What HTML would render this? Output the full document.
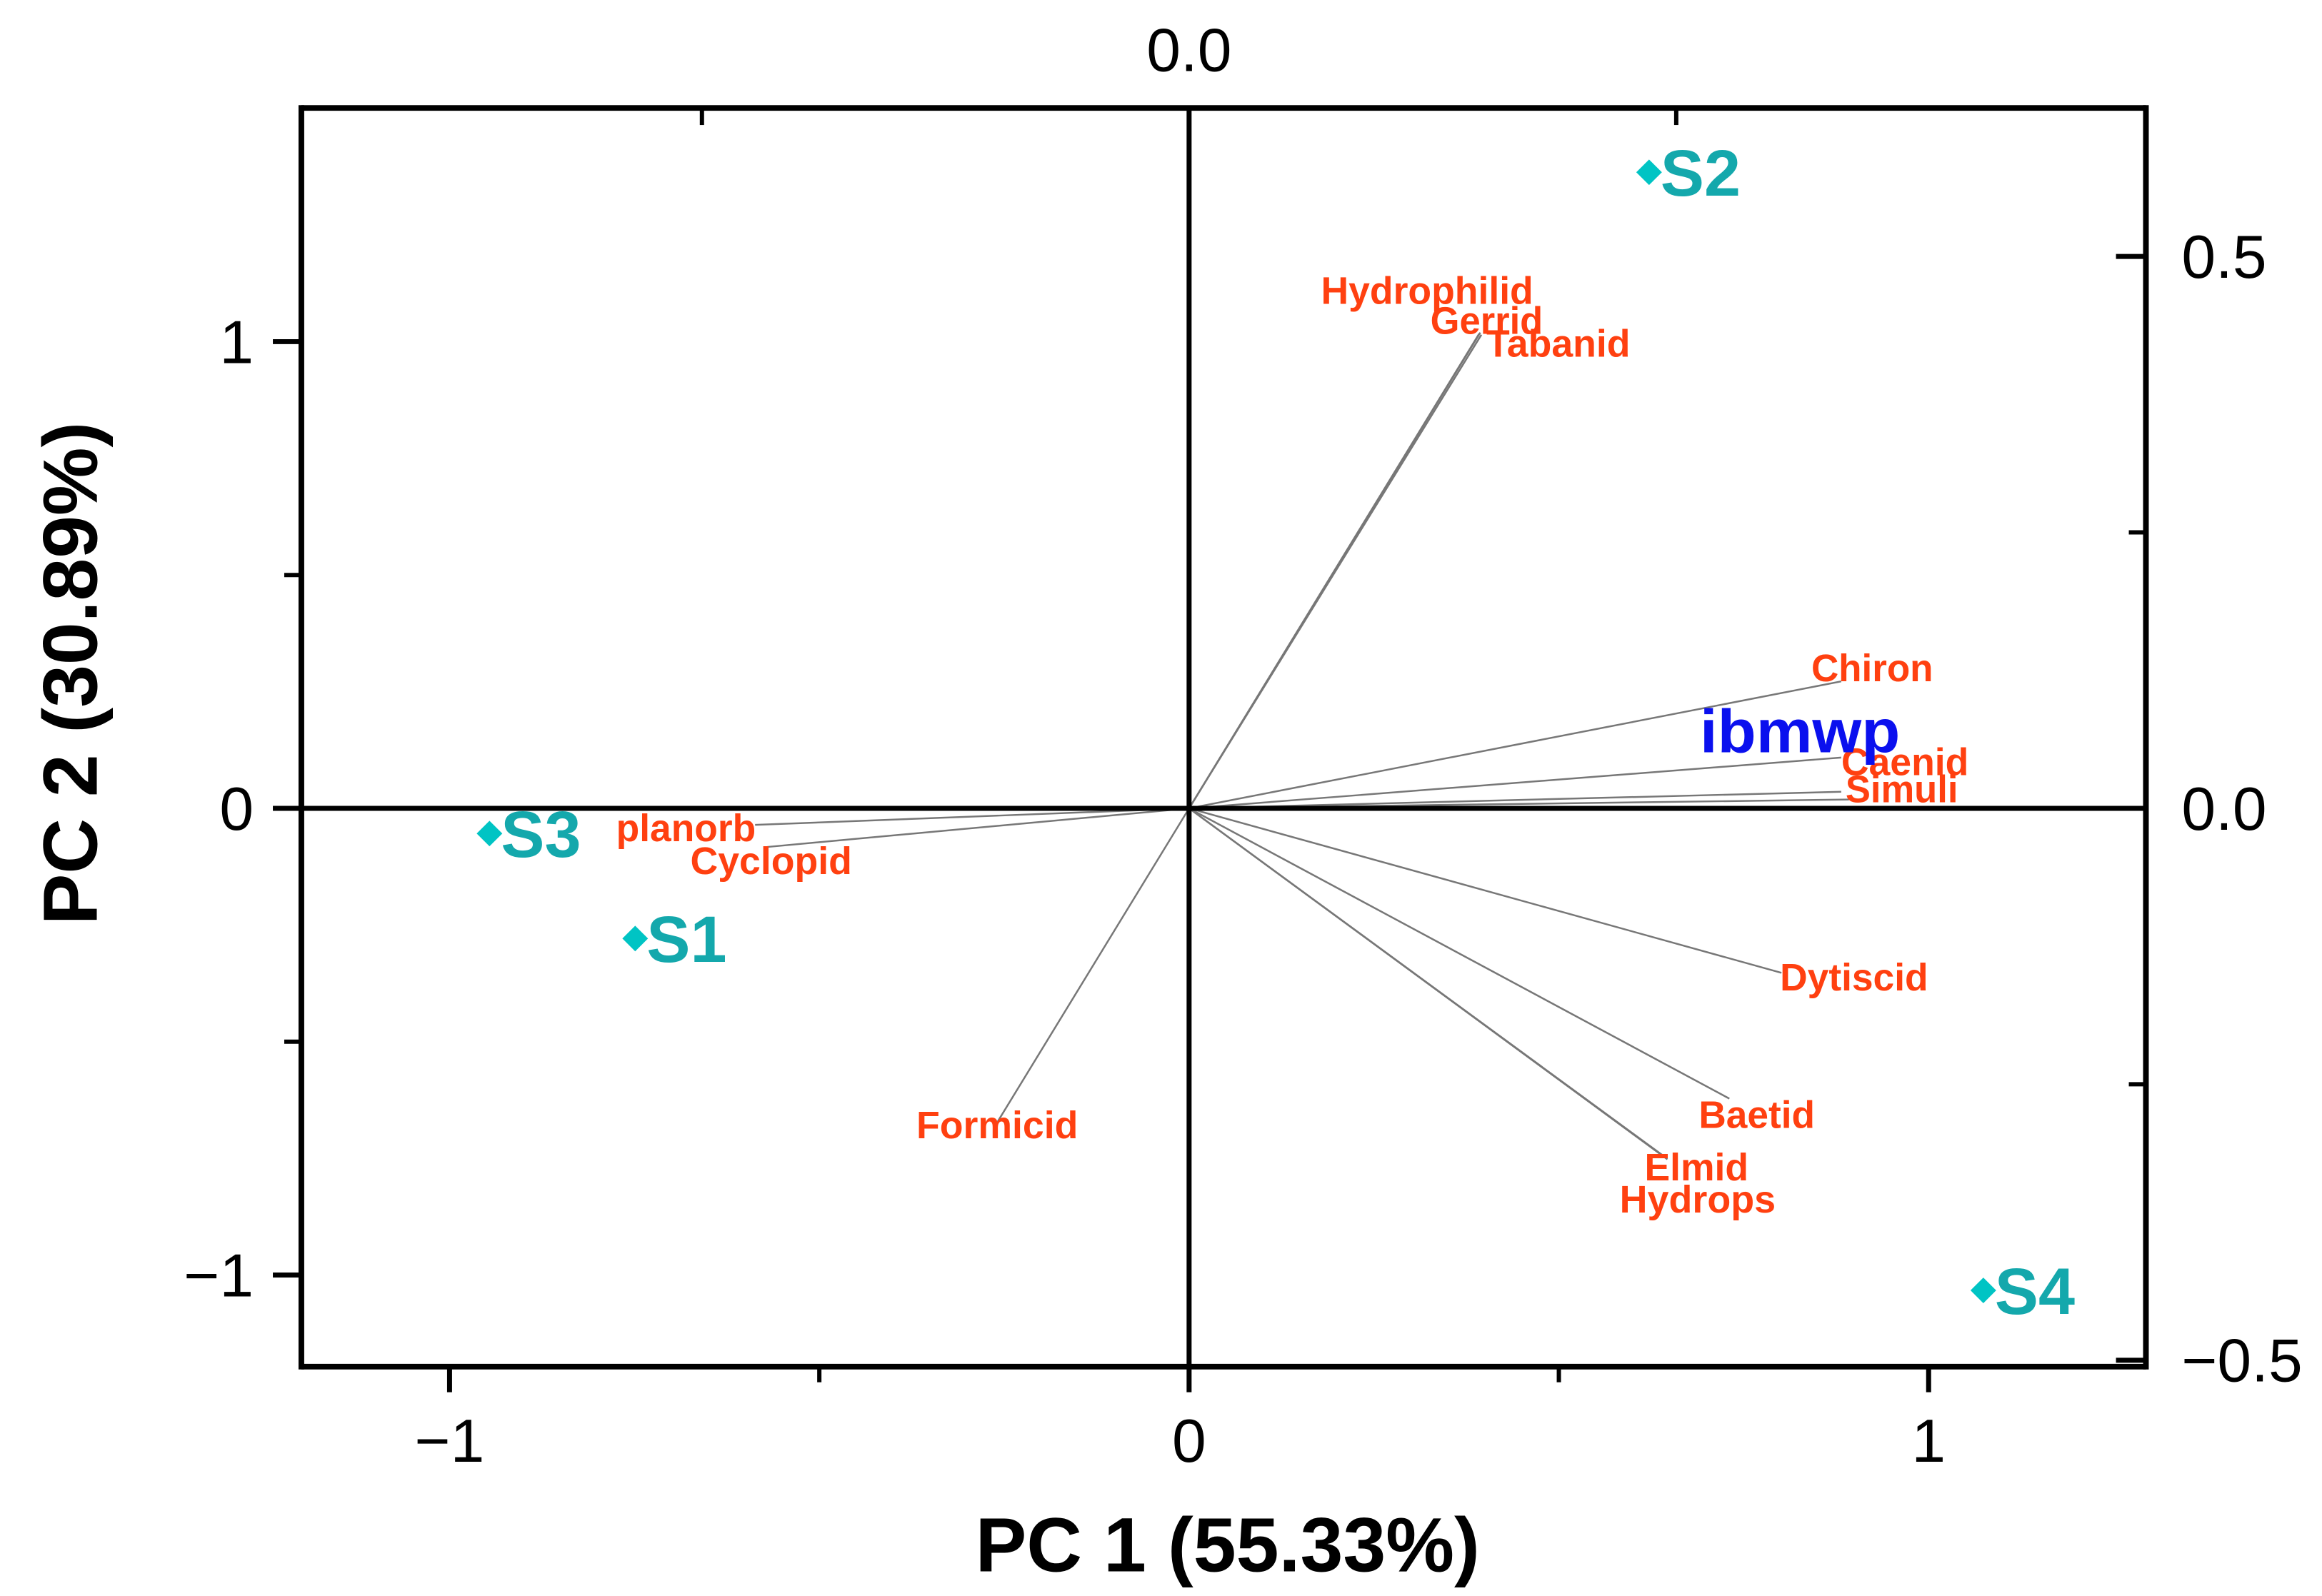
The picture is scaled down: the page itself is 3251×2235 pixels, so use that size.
<!DOCTYPE html>
<html><head><meta charset="utf-8"><style>
html,body{margin:0;padding:0;background:#fff}
svg{display:block}
text{font-family:"Liberation Sans",Arial,sans-serif}
</style></head><body>
<svg id="chart" width="3251" height="2235" viewBox="0 0 3251 2235" xmlns="http://www.w3.org/2000/svg">
<g transform="scale(0.9975,0.9947)">
<g id="lines"></g>
<g id="axes"></g>
<g id="marks"></g>
</g>
</svg>
<script>
// Scores (bottom/left axes)
const sampleNames = ["S1","S2","S3","S4"];
const sampleX = [-0.749, 0.622, -0.946, 1.074];
const sampleY = [-0.279, 1.363, -0.054, -1.033];
// Loadings (top/right axes)
const varNames = ["Hydrophilid","Gerrid","Tabanid","Chiron","Caenid","Simuli","Simuli2","Dytiscid","Baetid","Elmid","Hydrops","Formicid","planorb","Cyclopid"];
const loadX = [0.262,0.263,0.264,0.589,0.589,0.589,0.596,0.535,0.488,0.430,0.432,-0.173,-0.392,-0.381];
const loadY = [0.430,0.431,0.429,0.115,0.046,0.015,0.008,-0.149,-0.263,-0.316,-0.318,-0.284,-0.015,-0.035];
const xTicks = [-1,0,1];
const yTicks = [-1,0,1];
const rTicks = [-0.5,0.0,0.5];
const rTickLabels = ["\u22120.5","0.0","0.5"];

const X0=1669, XU=1038, Y0=1138, YU=657, LU=1554;
const L=423, R=3012, T=152, B=1924;
const sx=v=>X0+v*XU, sy=v=>Y0-v*YU;
const lx=v=>X0+v*LU, ly=v=>Y0-v*LU;
const NS="http://www.w3.org/2000/svg";
function mk(parent,tag,attrs,txt){const e=document.createElementNS(NS,tag);for(const k in attrs)e.setAttribute(k,attrs[k]);if(txt!==undefined)e.textContent=txt;document.getElementById(parent).appendChild(e);return e;}

// label style meta: [dx,dy,width,anchor]
const labelStyle={Hydrophilid:[-222,-42,298,"start"],Gerrid:[-70,2,158,"start"],Tabanid:[7,31,202,"start"],Chiron:[-42,0,171,"start"],Caenid:[0,25,179,"start"],Simuli:[6,15,158,"start"],Dytiscid:[-2,25,208,"start"],Baetid:[-43,41,163,"start"],Elmid:[-29,33,146,"start"],Hydrops:[-67,75,219,"start"],Formicid:[-114,23,227,"start"],planorb:[1,23,196,"end"],Cyclopid:[-108,38,227,"start"]};

varNames.forEach((n,i)=>{
  const ln=mk("lines","line",{x1:X0,y1:Y0,x2:lx(loadX[i]),y2:ly(loadY[i]),stroke:"#777","stroke-width":2.5});
  
  
  const s=labelStyle[n]; if(!s) return;
  const t=mk("marks","text",{x:lx(loadX[i])+s[0],y:ly(loadY[i])+s[1],"font-size":54,"font-weight":"bold",fill:"#ff4010","text-anchor":s[3],textLength:s[2],lengthAdjust:"spacingAndGlyphs"},n);
  
  
});
const ib=mk("marks","text",{x:2386,y:1059,"font-size":86,"font-weight":"bold",fill:"#0a10ee",textLength:281,lengthAdjust:"spacingAndGlyphs"},"ibmwp");



const A="axes";
function ax(x1,y1,x2,y2,w,name){const e=mk(A,"line",{x1,y1,x2,y2,stroke:"#000","stroke-width":w});}
ax(L,T,R,T,8,'top-border');ax(L,B,R,B,8,'bottom-border');ax(L,T-4,L,B+4,8,'left-border');ax(R,T-4,R,B+4,8,'right-border');
ax(L,Y0,R,Y0,7,'zero-line-horizontal');ax(X0,T,X0,B,7,'zero-line-vertical');
xTicks.forEach(v=>{ax(sx(v),B,sx(v),B+36,7,'x-tick');
  const t=mk(A,"text",{x:sx(v),y:2058,"font-size":86,"text-anchor":"middle"},v<0?"\u2212"+Math.abs(v):String(v));});
[-0.5,0.5].forEach(v=>ax(sx(v),B,sx(v),B+22,6,'x-minor-tick'));
yTicks.forEach(v=>{ax(L-40,sy(v),L,sy(v),7,'y-tick');
  const t=mk(A,"text",{x:356,y:sy(v)+30,"font-size":86,"text-anchor":"end"},v<0?"\u2212"+Math.abs(v):String(v));});
[-0.5,0.5].forEach(v=>ax(L-24,sy(v),L,sy(v),6,'y-minor-tick'));
rTicks.forEach((v,i)=>{ax(R-42,ly(v),R,ly(v),7,'right-tick');
  const t=mk(A,"text",{x:3062,y:ly(v)+30,"font-size":86},rTickLabels[i]);});
[-0.25,0.25].forEach(v=>ax(R-24,ly(v),R,ly(v),6,'right-minor-tick'));
[-0.44,0,0.44].forEach(v=>ax(lx(v),T,lx(v),T+24,6,'top-tick'));
const tt=mk(A,"text",{x:X0,y:100,"font-size":86,"text-anchor":"middle"},"0.0");
const xt=mk(A,"text",{x:1723,y:2212,"font-size":108,"font-weight":"bold","text-anchor":"middle"},"PC 1 (55.33%)");
const yt=mk(A,"text",{x:0,y:0,"font-size":108,"font-weight":"bold","text-anchor":"middle",transform:"translate(136,948) rotate(-90)"},"PC 2 (30.89%)");

sampleNames.forEach((n,i)=>{
  const cx=sx(sampleX[i]),cy=sy(sampleY[i]);
  const d=mk("marks","polygon",{points:`${cx},${cy-18} ${cx+18},${cy} ${cx},${cy+18} ${cx-18},${cy}`,fill:"#00c4c4"});
  
  
  const t=mk("marks","text",{x:cx+16,y:cy+33,"font-size":92,"font-weight":"bold",fill:"#14a8ac"},n);
  
  
});
</script>
</body></html>
